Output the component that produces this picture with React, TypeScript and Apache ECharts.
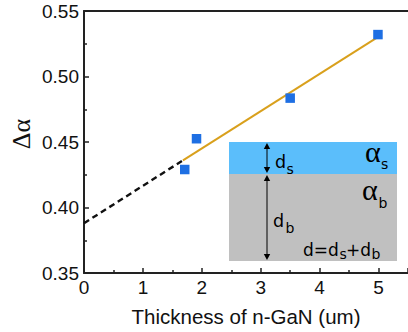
import React, { useEffect, useRef } from "react";
import * as echarts from "echarts";

const measured: [number, number][] = [
  [1.71, 0.429],
  [1.91, 0.4525],
  [3.5, 0.4835],
  [4.99, 0.532],
];
const extrapolated: [number, number][] = [
  [0, 0.388],
  [1.68, 0.436],
];
const fitted: [number, number][] = [
  [1.68, 0.436],
  [5.0, 0.5305],
];
const xTicks = [0, 1, 2, 3, 4, 5];

const SANS = "'Liberation Sans', Arial, sans-serif";
const SERIF = "'Liberation Serif', 'Times New Roman', serif";
const DJ = "'DejaVu Sans', sans-serif";

function arrow(x: number, y1: number, y2: number) {
  const h = 6;
  const w = 3.2;
  return [
    { type: "line", z: 12, shape: { x1: x, y1: y1 + 2, x2: x, y2: y2 - 2 }, style: { stroke: "#000", lineWidth: 1 } },
    { type: "polygon", z: 12, shape: { points: [[x, y1], [x - w, y1 + h], [x + w, y1 + h]] }, style: { fill: "#000" } },
    { type: "polygon", z: 12, shape: { points: [[x, y2], [x - w, y2 - h], [x + w, y2 - h]] }, style: { fill: "#000" } },
  ];
}

function txt(x: number, y: number, text: string, font: string, size: number) {
  return { type: "text", z: 12, x, y, style: { text, font: `${size}px ${font}`, fill: "#000", textVerticalAlign: "bottom" } };
}

export default function App() {
  const ref = useRef<HTMLDivElement>(null);
  useEffect(() => {
    if (!ref.current) return;
    const chart = echarts.init(ref.current, null, { renderer: "svg" });
    const axisColor = "#222";
    chart.setOption({
      animation: false,
      backgroundColor: "#fff",
      grid: { left: 84, top: 11, right: -4, bottom: 56 },
      xAxis: [
        {
          type: "value",
          min: 0,
          max: 5.5,
          interval: 1,
          name: "Thickness of n-GaN (um)",
          nameLocation: "middle",
          nameGap: 33,
          nameTextStyle: { fontFamily: SANS, fontSize: 20.5, color: "#111" },
          axisLine: { show: true, onZero: false, lineStyle: { color: axisColor, width: 2 } },
          axisTick: { show: true, inside: true, length: 5, lineStyle: { color: axisColor, width: 1.5 } },
          minorTick: { show: true, splitNumber: 2, length: 3, lineStyle: { color: axisColor, width: 1.5 } },
          axisLabel: {
            fontFamily: SANS,
            fontSize: 19,
            color: "#111",
            margin: 5,
            showMaxLabel: false,
            formatter: (v: number) => (xTicks.includes(v) ? String(v) : ""),
          },
          splitLine: { show: false },
        },
        {
          type: "value",
          position: "top",
          min: 0,
          max: 5.5,
          axisLine: { show: true, onZero: false, lineStyle: { color: axisColor, width: 2 } },
          axisTick: { show: false },
          axisLabel: { show: false },
          splitLine: { show: false },
        },
      ],
      yAxis: {
        type: "value",
        min: 0.35,
        max: 0.55,
        interval: 0.05,
        axisLine: { show: true, onZero: false, lineStyle: { color: axisColor, width: 2 } },
        axisTick: { show: true, inside: true, length: 5, lineStyle: { color: axisColor, width: 1.5 } },
        minorTick: { show: true, splitNumber: 2, length: 3, lineStyle: { color: axisColor, width: 1.5 } },
        axisLabel: {
          fontFamily: SANS,
          fontSize: 19,
          color: "#111",
          margin: 5,
          formatter: (v: number) => v.toFixed(2),
        },
        splitLine: { show: false },
      },
      series: [
        {
          type: "line",
          xAxisIndex: 0,
          data: extrapolated,
          symbol: "none",
          lineStyle: { color: "#111", width: 2.4, type: [6, 4] },
          z: 2,
        },
        {
          type: "line",
          xAxisIndex: 0,
          data: fitted,
          symbol: "none",
          lineStyle: { color: "#D9A01C", width: 2 },
          z: 2,
        },
        {
          type: "scatter",
          xAxisIndex: 0,
          data: measured,
          symbol: "rect",
          symbolSize: 9.5,
          itemStyle: { color: "#1E6FE3", opacity: 1 },
          z: 5,
        },
      ],
      graphic: [
        {
          type: "text",
          x: 21,
          y: 134,
          rotation: Math.PI / 2,
          style: { text: "Δα", font: `26px ${SERIF}`, fill: "#111", textAlign: "center", textVerticalAlign: "middle" },
        },
        { type: "rect", z: 10, shape: { x: 229, y: 142, width: 168, height: 32 }, style: { fill: "#5BBEFB" } },
        { type: "rect", z: 10, shape: { x: 229, y: 174, width: 168, height: 87 }, style: { fill: "#C0C0C0" } },
        ...arrow(267, 143, 173),
        ...arrow(267, 175, 260),
        txt(275, 171, "d", DJ, 17.5),
        txt(286.5, 176, "s", DJ, 14),
        txt(273, 229.5, "d", DJ, 17.5),
        txt(285.5, 235, "b", DJ, 14),
        txt(365, 166, "α", SERIF, 30),
        txt(381, 171, "s", DJ, 14),
        txt(362, 204, "α", SERIF, 30),
        txt(378.5, 210, "b", DJ, 14),
        txt(303, 258, "d=d", DJ, 17),
        txt(339.5, 261, "s", DJ, 14),
        txt(346, 258, "+d", DJ, 17),
        txt(371.5, 261, "b", DJ, 14),
      ],
    });
    return () => chart.dispose();
  }, []);
  return <div ref={ref} style={{ width: 408, height: 332, position: "absolute", left: 0, top: 0 }} />;
}
